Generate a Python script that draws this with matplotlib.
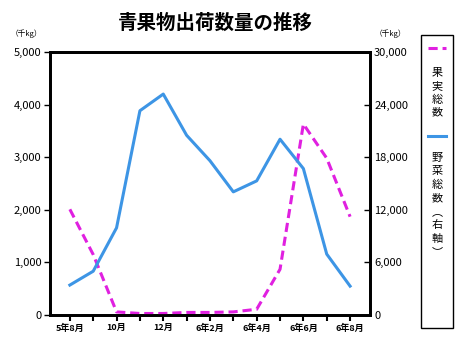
import numpy as np
import matplotlib.pyplot as plt
from matplotlib.lines import Line2D
from matplotlib.patches import Rectangle

plt.rcParams['font.family'] = ['Noto Sans CJK JP', 'DejaVu Sans']

# data (千kg)
months = ["5年8月", "9月", "10月", "11月", "12月", "6年1月", "6年2月",
          "3月", "6年4月", "5月", "6年6月", "7月", "6年8月"]
fruit = [2010, 1150, 60, 30, 30, 50, 50, 60, 110, 870, 3630, 2980, 1870]
veg = [3420, 5000, 9950, 23300, 25200, 20500, 17600, 14050, 15300, 20050, 16700, 6950, 3300]
shown_labels = ["5年8月", "10月", "12月", "6年2月", "6年4月", "6年6月", "6年8月"]

fig = plt.figure(figsize=(4.63, 3.56), dpi=100)
ax = fig.add_axes([0.108, 0.115, 0.691, 0.739])
ax2 = ax.twinx()

x = np.arange(len(months))
ax.plot(x, fruit, color='#E020E0', lw=2.2, dashes=(3, 1.6), zorder=3)
ax2.plot(x, veg, color='#3D95E5', lw=2.2, zorder=2)

ax.set_xlim(-0.85, 12.85)
ax.set_ylim(0, 5000)
ax2.set_ylim(0, 30000)
ax.set_yticks(np.arange(0, 5001, 1000))
ax2.set_yticks(np.arange(0, 30001, 6000))
ax.set_yticklabels([f"{v:,}" for v in range(0, 5001, 1000)], fontsize=8)
ax2.set_yticklabels([f"{v:,}" for v in range(0, 30001, 6000)], fontsize=8)
ax.set_xticks(x)
ax.set_xticklabels([m if m in shown_labels else "" for m in months], fontsize=6.5)
for t in ax.get_xticklabels():
    t.set_fontweight('bold')

ax.tick_params(axis='x', direction='out', length=4, width=1.5, pad=2)
ax.tick_params(axis='y', direction='out', length=4, width=1, pad=2)
ax2.tick_params(axis='y', direction='in', length=4, width=1, pad=3)
for a in (ax, ax2):
    for s in a.spines.values():
        s.set_linewidth(2)

fig.text(0.465, 0.935, "青果物出荷数量の推移", ha='center', va='center',
         fontsize=14, fontweight='bold')
fig.text(0.058, 0.905, "（千kg）", ha='center', va='center', fontsize=5.5)
fig.text(0.843, 0.905, "（千kg）", ha='center', va='center', fontsize=5.5)

# legend box
fig.patches.append(Rectangle((0.910, 0.080), 0.068, 0.822, transform=fig.transFigure,
                             fill=False, edgecolor='black', lw=1))
fig.lines.append(Line2D([0.925, 0.963], [0.865, 0.865], transform=fig.transFigure,
                        color='#E020E0', lw=2.2, dashes=(3, 1.6)))
fig.lines.append(Line2D([0.925, 0.963], [0.618, 0.618], transform=fig.transFigure,
                        color='#3D95E5', lw=2.2))
for i, ch in enumerate("果実総数"):
    fig.text(0.944, 0.794 - i * 0.037, ch, ha='center', va='center', fontsize=8)
for i, ch in enumerate("野菜総数︵右軸︶"):
    fig.text(0.944, 0.557 - i * 0.038, ch, ha='center', va='center', fontsize=8)

fig.savefig("out.png", dpi=100)
